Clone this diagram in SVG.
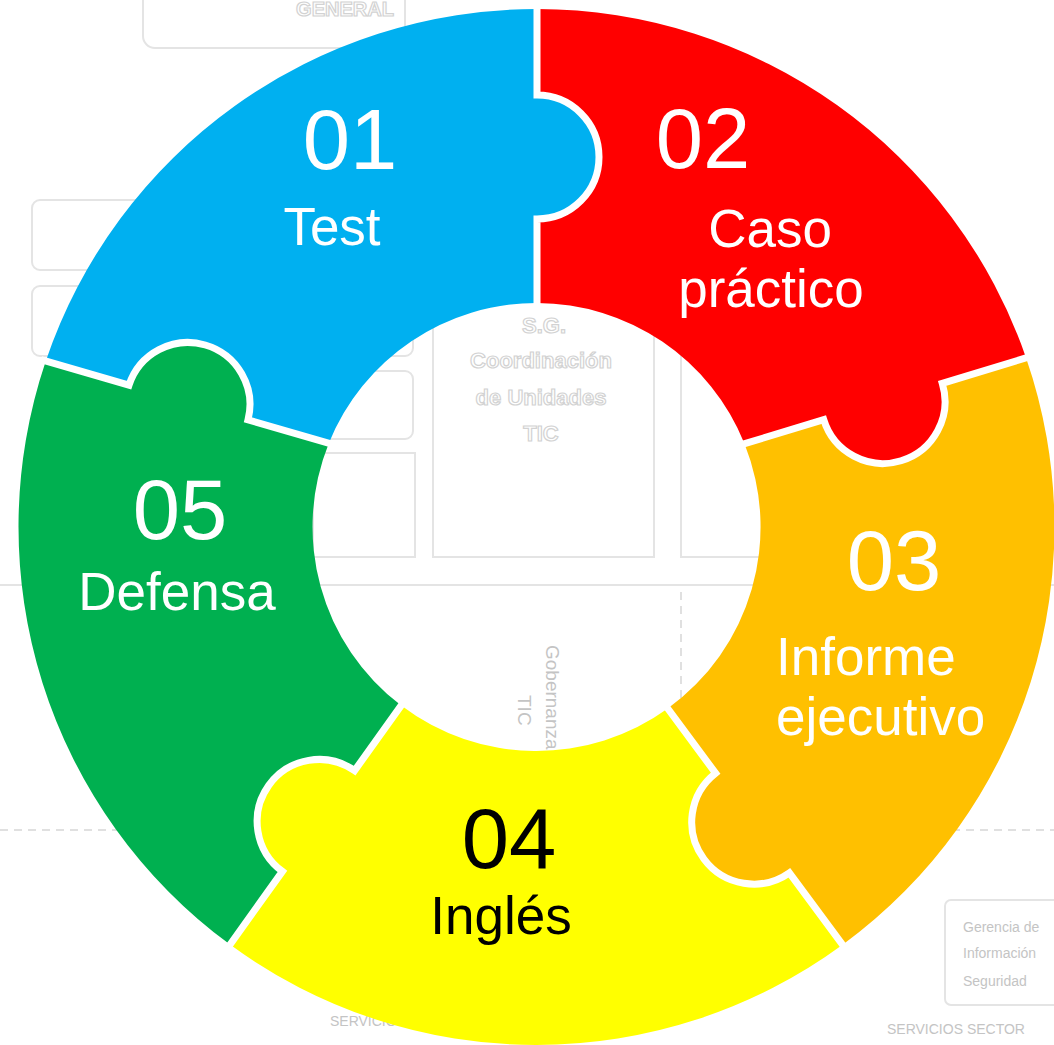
<svg xmlns="http://www.w3.org/2000/svg" width="1054" height="1045" viewBox="0 0 1054 1045">
<style>
.wm{fill:none;stroke:#e4e4e4;stroke-width:2}
.wmd{fill:none;stroke:#e0e0e0;stroke-width:2;stroke-dasharray:8 6}
.wt{font-family:"Liberation Sans",Arial,sans-serif;font-weight:bold;fill:#ffffff;stroke:#d2d2d2;stroke-width:1.2}
.ws{font-family:"Liberation Sans",Arial,sans-serif;fill:#c4c4c4}
.num{font-family:"Liberation Sans",Arial,sans-serif;font-size:85px;text-anchor:middle}
.lbl{font-family:"Liberation Sans",Arial,sans-serif;font-size:53px;text-anchor:middle}
.lbs{font-family:"Liberation Sans",Arial,sans-serif;font-size:53px;text-anchor:start}
.w{fill:#ffffff}
.k{fill:#000000}
.sep{fill:none;stroke:#ffffff;stroke-width:7}
</style>
<rect x="0" y="0" width="1054" height="1045" fill="#ffffff"/>
<g id="watermark">
<rect class="wm" x="143" y="-20" width="262" height="68" rx="12"/>
<text class="wt" x="345" y="16" font-size="20" text-anchor="middle">GENERAL</text>
<rect class="wm" x="32" y="200" width="120" height="70" rx="8"/>
<rect class="wm" x="32" y="286" width="381" height="70" rx="8"/>
<rect class="wm" x="240" y="371" width="173" height="68" rx="8"/>
<rect class="wm" x="313" y="453" width="102" height="104"/>
<rect class="wm" x="433" y="292" width="221" height="265"/>
<rect class="wm" x="681" y="300" width="110" height="257"/>
<line class="wm" x1="0" y1="585" x2="1054" y2="585"/>
<line class="wmd" x1="681" y1="592" x2="681" y2="710"/>
<line class="wmd" x1="0" y1="830" x2="1054" y2="830"/>
<text class="wt" x="544" y="333" font-size="22" text-anchor="middle">S.G.</text>
<text class="wt" x="541" y="368" font-size="22" text-anchor="middle">Coordinación</text>
<text class="wt" x="541" y="405" font-size="22" text-anchor="middle">de Unidades</text>
<text class="wt" x="541" y="441" font-size="22" text-anchor="middle">TIC</text>
<text class="ws" x="0" y="0" font-size="19" transform="translate(546,645) rotate(90)">Gobernanza</text>
<text class="ws" x="0" y="0" font-size="19" transform="translate(518,695) rotate(90)">TIC</text>
<rect class="wm" x="945" y="900" width="130" height="105" rx="6"/>
<text class="ws" x="963" y="932" font-size="14">Gerencia de</text>
<text class="ws" x="963" y="958" font-size="14">Información</text>
<text class="ws" x="963" y="986" font-size="14">Seguridad</text>
<text class="ws" x="887" y="1034" font-size="14">SERVICIOS SECTOR</text>
<text class="ws" x="330" y="1026" font-size="14">SERVICIOS</text>
</g>
<g id="node-01">
<path fill="#00B0F0" d="M 45.8 361.1 A 518 518 0 0 1 537 9 L 537 95 A 62 62 0 0 1 537 219 L 537 303 A 224 224 0 0 0 328.8 443.2 L 248 419.8 A 62 62 0 0 0 129 385.2 Z"/>
<text class="num w" x="350" y="169">01</text>
<text class="lbl w" x="332" y="245">Test</text>
</g>
<g id="node-02">
<path fill="#FF0000" d="M 537 9 A 518 518 0 0 1 1026.1 357.9 L 942.3 383.4 A 62 62 0 0 1 823.7 419.6 L 744.5 443.7 A 224 224 0 0 0 537 303 L 537 219 A 62 62 0 0 0 537 95 Z"/>
<text class="num w" x="703" y="168">02</text>
<text class="lbl w" x="770" y="247">Caso</text>
<text class="lbl w" x="771" y="307">práctico</text>
</g>
<g id="node-03">
<path fill="#FFC000" d="M 1026.1 357.9 A 518 518 0 0 1 842.6 944.8 L 789.4 872.8 A 62 62 0 0 1 715.6 773.2 L 667.8 708.5 A 224 224 0 0 0 744.5 443.7 L 823.7 419.6 A 62 62 0 0 0 942.3 383.4 Z"/>
<text class="num w" x="894" y="590">03</text>
<text class="lbs w" x="776" y="675">Informe</text>
<text class="lbs w" x="776" y="735">ejecutivo</text>
</g>
<g id="node-04">
<path fill="#FFFF00" d="M 842.6 944.8 A 518 518 0 0 1 230 944.6 L 282.4 871.4 A 62 62 0 0 1 354.6 770.6 L 401.2 705.5 A 224 224 0 0 0 667.8 708.5 L 715.6 773.2 A 62 62 0 0 0 789.4 872.8 Z"/>
<text class="num k" x="509" y="868">04</text>
<text class="lbl k" x="501" y="934">Inglés</text>
</g>
<g id="node-05">
<path fill="#00B050" d="M 230 944.6 A 518 518 0 0 1 45.8 361.1 L 129 385.2 A 62 62 0 0 1 248 419.8 L 328.8 443.2 A 224 224 0 0 0 401.2 705.5 L 354.6 770.6 A 62 62 0 0 0 282.4 871.4 Z"/>
<text class="num w" x="180" y="539">05</text>
<text class="lbl w" x="177" y="610">Defensa</text>
</g>
<g id="connectors">
<path class="sep" d="M 537 4 L 537 95 A 62 62 0 0 1 537 219 L 537 307"/>
<path class="sep" d="M 1030.9 356.4 L 942.3 383.4 A 62 62 0 0 1 823.7 419.6 L 739.7 445.2"/>
<path class="sep" d="M 845.6 948.8 L 789.4 872.8 A 62 62 0 0 1 715.6 773.2 L 664.8 704.5"/>
<path class="sep" d="M 227.1 948.7 L 282.4 871.4 A 62 62 0 0 1 354.6 770.6 L 404.1 701.4"/>
<path class="sep" d="M 41 359.7 L 129 385.2 A 62 62 0 0 1 248 419.8 L 333.6 444.6"/>
</g>
</svg>
